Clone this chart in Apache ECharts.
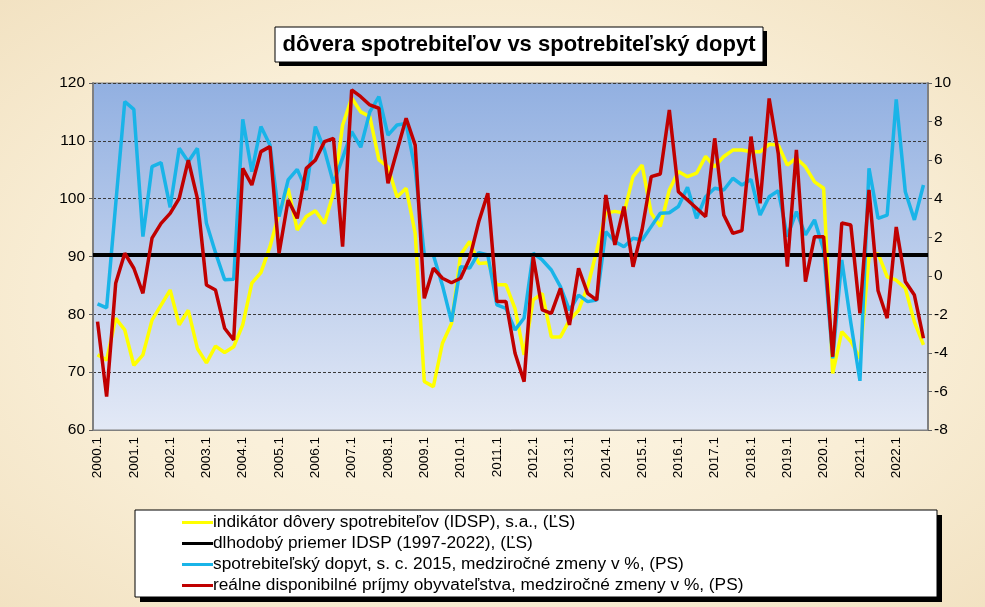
<!DOCTYPE html>
<html>
<head>
<meta charset="utf-8">
<script src="https://cdn.jsdelivr.net/npm/echarts@6/dist/echarts.min.js"></script>
<style>
html, body { margin: 0; padding: 0; }
body {
    width: 985px; height: 607px; overflow: hidden;
    background: radial-gradient(ellipse at center, #fdf7e8 0%, #f9eed6 60%, #f2e2c2 100%);
}
#chart { width: 985px; height: 607px; }
</style>
</head>
<body>
<div id="chart"></div>
<script>
// roky a štvrťroky na osi x
const YEARS = [2000, 2001, 2002, 2003, 2004, 2005, 2006, 2007, 2008, 2009, 2010, 2011,
    2012, 2013, 2014, 2015, 2016, 2017, 2018, 2019, 2020, 2021, 2022];
const QUARTERS = [1, 2, 3, 4];

// indikátor dôvery spotrebiteľov (ĽS)
const IDSP = [
    73.0, 72.1, 79.3, 77.3, 71.2, 73.0, 79.0, 81.6, 84.2, 78.2, 80.7, 74.1,
    71.6, 74.5, 73.4, 74.4, 78.2, 85.4, 87.2, 91.7, 97.5, 101.8, 94.6, 96.9,
    97.9, 95.7, 101.0, 112.7, 117.4, 115.0, 114.2, 106.7, 105.5, 100.3, 101.8, 94.0,
    68.4, 67.5, 75.0, 78.4, 90.3, 92.6, 88.8, 88.9, 85.1, 85.1, 81.0, 73.0,
    82.5, 83.6, 76.1, 76.1, 79.0, 80.7, 84.8, 91.0, 97.5, 97.8, 97.5, 103.8,
    105.8, 97.5, 95.2, 101.5, 104.7, 103.8, 104.4, 107.3, 105.5, 107.3, 108.4, 108.4,
    108.1, 108.1, 109.4, 109.3, 105.8, 107.0, 105.5, 102.9, 101.8, 69.8, 77.0, 75.3,
    72.4, 90.0, 90.5, 86.5, 85.9, 84.5, 78.7, 74.7
];

// dlhodobý priemer IDSP (ĽS)
const IDSP_AVG = 90.3;

// spotrebiteľský dopyt, medziročné zmeny v % (PS)
const DOPYT = [
    -1.46, -1.67, 3.7, 9.03, 8.63, 2.03, 5.66, 5.87, 3.55, 6.61, 5.92, 6.61,
    2.72, 1.2, -0.2, -0.18, 8.12, 5.4, 7.74, 6.78, 3.07, 4.97, 5.52, 4.45,
    7.74, 6.53, 4.8, 6.1, 7.48, 6.67, 8.5, 9.29, 7.3, 7.82, 7.9, 5.5,
    1.08, 1.08, -0.5, -2.38, 0.47, 0.4, 1.2, 1.08, -1.51, -1.69, -2.81, -2.19,
    1.17, 0.82, 0.3, -0.56, -1.8, -1.0, -1.34, -1.26, 2.29, 1.77, 1.51, 1.95,
    1.86, 2.55, 3.24, 3.27, 3.59, 4.59, 2.98, 4.1, 4.54, 4.45, 5.06, 4.71,
    5.0, 3.15, 4.1, 4.41, 2.03, 3.33, 2.12, 2.9, 1.34, -4.28, 0.82, -2.45,
    -5.45, 5.57, 2.98, 3.15, 9.15, 4.36, 2.9, 4.71
];

// reálne disponibilné príjmy obyvateľstva, medziročné zmeny v % (PS)
const PRIJMY = [
    -2.38, -6.27, -0.39, 1.17, 0.39, -0.91, 1.95, 2.72, 3.24, 4.02, 6.0, 4.02,
    -0.48, -0.74, -2.72, -3.33, 5.57, 4.71, 6.44, 6.7, 1.17, 3.93, 2.98, 5.57,
    6.0, 6.96, 7.13, 1.51, 9.64, 9.29, 8.86, 8.69, 4.8, 6.5, 8.17, 6.78,
    -1.17, 0.39, -0.13, -0.36, -0.13, 0.9, 2.8, 4.28, -1.34, -1.34, -4.02, -5.49,
    0.99, -1.77, -1.95, -0.65, -2.55, 0.39, -0.91, -1.26, 4.19, 1.6, 3.59, 0.47,
    2.4, 5.14, 5.28, 8.6, 4.36, 3.93, 3.5, 3.07, 7.13, 3.15, 2.2, 2.34,
    7.22, 3.76, 9.2, 6.35, 0.47, 6.53, -0.3, 2.03, 2.03, -4.2, 2.74, 2.63,
    -1.95, 4.45, -0.78, -2.2, 2.53, -0.3, -1.0, -3.24
];

const NAMES = [
    'indikátor dôvery spotrebiteľov (IDSP), s.a., (ĽS)',
    'dlhodobý priemer IDSP (1997-2022), (ĽS)',
    'spotrebiteľský dopyt, s. c. 2015, medziročné zmeny v %, (PS)',
    'reálne disponibilné príjmy obyvateľstva, medziročné zmeny v %, (PS)'
];

const FONT = '"Liberation Sans", Arial, sans-serif';

const categories = [];
YEARS.forEach(y => QUARTERS.forEach(q => categories.push(y + '.' + q)));

const chart = echarts.init(document.getElementById('chart'));

const option = {
    animation: false,
    grid: {
        left: 93, right: 57, top: 83, bottom: 177,
        show: true,
        borderColor: '#808080',
        borderWidth: 1,
        backgroundColor: new echarts.graphic.LinearGradient(0, 0, 0, 1, [
            { offset: 0, color: '#92b0e1' },
            { offset: 1, color: '#e3e9f6' }
        ])
    },
    graphic: [
        // rámik nadpisu
        { type: 'rect', z: 1, shape: { x: 279, y: 31, width: 488, height: 35 }, style: { fill: '#000' } },
        { type: 'rect', z: 2, shape: { x: 275, y: 27, width: 488, height: 35 }, style: { fill: '#fff', stroke: '#000', lineWidth: 1 } },
        {
            type: 'text', z: 3, x: 519, y: 45,
            style: {
                text: 'dôvera spotrebiteľov vs spotrebiteľský dopyt',
                font: 'bold 22px ' + FONT, fill: '#000',
                textAlign: 'center', textVerticalAlign: 'middle'
            }
        },
        // rámik legendy
        { type: 'rect', z: 1, shape: { x: 140, y: 515, width: 802, height: 87 }, style: { fill: '#000' } },
        { type: 'rect', z: 2, shape: { x: 135, y: 510, width: 802, height: 87 }, style: { fill: '#fff', stroke: '#000', lineWidth: 1 } }
    ],
    legend: {
        orient: 'vertical',
        left: 177, top: 509,
        z: 10,
        icon: 'rect',
        itemWidth: 31, itemHeight: 3,
        itemGap: 4,
        data: NAMES,
        textStyle: { fontFamily: FONT, fontSize: 17.3, lineHeight: 17, color: '#000', padding: [0, 0, 0, -5] }
    },
    xAxis: {
        type: 'category',
        data: categories,
        boundaryGap: true,
        axisLine: { onZero: false, lineStyle: { color: '#808080', width: 1 } },
        axisTick: { interval: 0, length: 4, lineStyle: { color: '#606060' } },
        axisLabel: { interval: 3, rotate: 90, margin: 7, fontSize: 13.5, color: '#000', fontFamily: FONT }
    },
    yAxis: [
        {
            type: 'value', min: 60, max: 120, interval: 10, position: 'left',
            axisLine: { show: true, lineStyle: { color: '#808080', width: 2 } },
            axisTick: { show: true, length: 4, lineStyle: { color: '#606060' } },
            axisLabel: { fontSize: 15.5, color: '#000', margin: 8, fontFamily: FONT },
            splitLine: { show: true, lineStyle: { color: '#3a3a3a', width: 1, type: [3, 2] } }
        },
        {
            type: 'value', min: -8, max: 10, interval: 2, position: 'right',
            axisLine: { show: true, lineStyle: { color: '#808080', width: 2 } },
            axisTick: { show: true, length: 4, lineStyle: { color: '#606060' } },
            axisLabel: { fontSize: 15.5, color: '#000', margin: 6, fontFamily: FONT },
            splitLine: { show: false }
        }
    ],
    series: [
        {
            name: NAMES[0], type: 'line', yAxisIndex: 0, data: IDSP,
            symbol: 'none', color: '#ffff00', lineStyle: { width: 3.5, color: '#ffff00' }, z: 3
        },
        {
            name: NAMES[1], type: 'line', yAxisIndex: 0, data: [],
            symbol: 'none', color: '#000', lineStyle: { width: 4, color: '#000' },
            markLine: {
                silent: true, symbol: 'none', label: { show: false },
                lineStyle: { color: '#000', width: 4, type: 'solid' },
                data: [{ yAxis: IDSP_AVG }]
            },
            z: 2
        },
        {
            name: NAMES[2], type: 'line', yAxisIndex: 1, data: DOPYT,
            symbol: 'none', color: '#19b4e8', lineStyle: { width: 3.5, color: '#19b4e8' }, z: 4
        },
        {
            name: NAMES[3], type: 'line', yAxisIndex: 1, data: PRIJMY,
            symbol: 'none', color: '#c00000', lineStyle: { width: 3.5, color: '#c00000' }, z: 5
        }
    ]
};

chart.setOption(option);
</script>
</body>
</html>
